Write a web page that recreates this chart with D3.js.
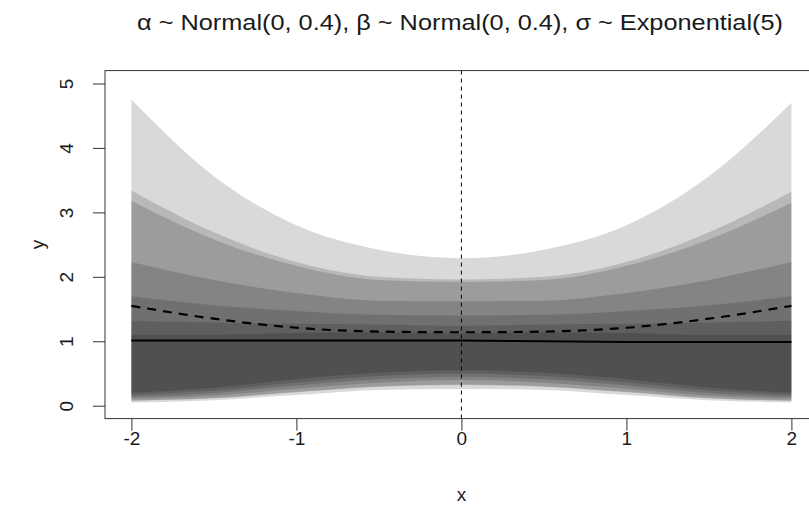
<!DOCTYPE html>
<html>
<head>
<meta charset="utf-8">
<script src="https://cdn.jsdelivr.net/npm/d3@7"></script>
<style>
  html, body { margin: 0; padding: 0; background: #fff; }
  svg { display: block; font-family: "Liberation Sans", Arial, sans-serif; }
</style>
</head>
<body>
<svg id="chart" width="809" height="524"></svg>
<script>
// Prior predictive summary of y across x
const xs = [-2, -1.5, -1, -0.5, 0, 0.5, 1, 1.5, 2];

// HPDI levels, drawn widest first with stacked translucent black
const levels = [0.95, 0.90, 0.89, 0.80, 0.70, 0.60, 0.50];

const upper95 = [4.75, 3.56, 2.80, 2.42, 2.29, 2.42, 2.80, 3.56, 4.70];
const upper90 = [3.34, 2.69, 2.23, 2.00, 1.96, 2.00, 2.23, 2.69, 3.32];
const upper89 = [3.18, 2.58, 2.17, 1.95, 1.92, 1.95, 2.17, 2.58, 3.15];
const upper80 = [2.23, 1.95, 1.75, 1.63, 1.62, 1.63, 1.75, 1.95, 2.23];
const upper70 = [1.70, 1.56, 1.47, 1.41, 1.40, 1.41, 1.47, 1.56, 1.70];
const upper60 = [1.32, 1.29, 1.27, 1.26, 1.24, 1.26, 1.27, 1.29, 1.32];
const upper50 = [1.10, 1.10, 1.13, 1.14, 1.12, 1.14, 1.13, 1.10, 1.10];

const lower95 = [0.05, 0.086, 0.165, 0.243, 0.26, 0.243, 0.165, 0.086, 0.05];
const lower90 = [0.075, 0.114, 0.21, 0.295, 0.32, 0.295, 0.21, 0.114, 0.075];
const lower89 = [0.08, 0.118, 0.215, 0.30, 0.33, 0.30, 0.215, 0.118, 0.08];
const lower80 = [0.11, 0.156, 0.265, 0.357, 0.40, 0.357, 0.265, 0.156, 0.11];
const lower70 = [0.14, 0.195, 0.315, 0.41, 0.45, 0.41, 0.315, 0.195, 0.14];
const lower60 = [0.17, 0.236, 0.36, 0.46, 0.50, 0.46, 0.36, 0.236, 0.17];
const lower50 = [0.20, 0.28, 0.41, 0.51, 0.55, 0.51, 0.41, 0.28, 0.20];

const meanY   = [1.55, 1.35, 1.21, 1.15, 1.14, 1.15, 1.21, 1.35, 1.55];
const medianY = [1.01, 1.01, 1.01, 1.01, 1.01, 1.00, 0.99, 0.99, 0.99];

const xTicks = [-2, -1, 0, 1, 2];
const yTicks = [0, 1, 2, 3, 4, 5];
const titleText = "\u03b1 ~ Normal(0, 0.4),  \u03b2 ~ Normal(0, 0.4), \u03c3 ~ Exponential(5)";

const uppers = [upper95, upper90, upper89, upper80, upper70, upper60, upper50];
const lowers = [lower95, lower90, lower89, lower80, lower70, lower60, lower50];

const svg = d3.select("#chart");
const plot = { left: 105, top: 70.6, bottom: 418.6, right: 817.8 };
const ink = "#1a1a1a";
const labelFont = 19;

const x = d3.scaleLinear().domain([-2.16, 2.16]).range([plot.left, plot.right]);
const y = d3.scaleLinear().domain([-0.2, 5.2]).range([plot.bottom, plot.top]);

// shaded interval bands
const area = d3.area()
  .x(d => x(d.x))
  .y0(d => y(d.lo))
  .y1(d => y(d.hi))
  .curve(d3.curveMonotoneX);

const bands = svg.append("g");
levels.forEach((lev, i) => {
  const pts = xs.map((xv, j) => ({ x: xv, lo: lowers[i][j], hi: uppers[i][j] }));
  bands.append("path")
    .attr("d", area(pts))
    .attr("fill", "rgba(0,0,0,0.15)");
});

const line = d3.line().x(d => x(d.x)).y(d => y(d.y)).curve(d3.curveMonotoneX);

// median
svg.append("path")
  .attr("d", line(xs.map((xv, j) => ({ x: xv, y: medianY[j] }))))
  .attr("fill", "none").attr("stroke", "#000").attr("stroke-width", 2);

// mean
svg.append("path")
  .attr("d", line(xs.map((xv, j) => ({ x: xv, y: meanY[j] }))))
  .attr("fill", "none").attr("stroke", "#000").attr("stroke-width", 2.2)
  .attr("stroke-dasharray", "9,7");

// reference line at x = 0
svg.append("line")
  .attr("x1", x(0)).attr("x2", x(0))
  .attr("y1", plot.top).attr("y2", plot.bottom)
  .attr("stroke", "#000").attr("stroke-width", 1)
  .attr("stroke-dasharray", "4,4");

// box
svg.append("rect")
  .attr("x", plot.left).attr("y", plot.top)
  .attr("width", plot.right - plot.left).attr("height", plot.bottom - plot.top)
  .attr("fill", "none").attr("stroke", "#333").attr("stroke-width", 1);

// axes
const xAxis = d3.axisBottom(x).tickValues(xTicks).tickSize(12).tickSizeOuter(0).tickPadding(1)
  .tickFormat(d3.format("d"));
const gx = svg.append("g").attr("transform", `translate(0,${plot.bottom})`).call(xAxis);
gx.select(".domain").remove();
gx.selectAll(".tick line").attr("stroke", "#333");
gx.selectAll(".tick text").attr("font-size", labelFont).attr("fill", ink)
  .attr("font-family", "Liberation Sans, Arial, sans-serif")
  .text(d => d < 0 ? "-" + Math.abs(d) : String(d));

const yAxis = d3.axisLeft(y).tickValues(yTicks).tickSize(12).tickSizeOuter(0).tickFormat(d3.format("d"));
const gy = svg.append("g").attr("transform", `translate(${plot.left},0)`).call(yAxis);
gy.select(".domain").remove();
gy.selectAll(".tick line").attr("stroke", "#333");
gy.selectAll(".tick text")
  .attr("font-size", labelFont).attr("fill", ink)
  .attr("font-family", "Liberation Sans, Arial, sans-serif")
  .attr("x", null)
  .attr("text-anchor", "middle")
  .attr("transform", "translate(-39,0) rotate(-90)")
  .attr("dy", "0.36em");

// axis titles
svg.append("text")
  .attr("x", x(0)).attr("y", 501)
  .attr("text-anchor", "middle").attr("font-size", labelFont).attr("fill", ink)
  .text("x");
svg.append("text")
  .attr("transform", `translate(44,${(plot.top + plot.bottom) / 2}) rotate(-90)`)
  .attr("text-anchor", "middle").attr("font-size", labelFont).attr("fill", ink)
  .text("y");

// title, fitted to its printed width
svg.append("text")
  .attr("x", 137).attr("y", 30)
  .attr("font-size", 22).attr("fill", ink)
  .attr("textLength", 646).attr("lengthAdjust", "spacingAndGlyphs")
  .text(titleText);
</script>
</body>
</html>
